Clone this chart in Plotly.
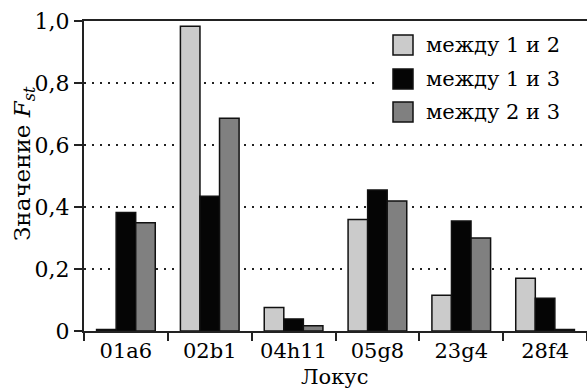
import plotly.graph_objects as go

loci = ["01a6", "02b1", "04h11", "05g8", "23g4", "28f4"]
series_names = ["между 1 и 2", "между 1 и 3", "между 2 и 3"]
fst_12 = [0.005, 0.983, 0.076, 0.360, 0.115, 0.170]
fst_13 = [0.382, 0.435, 0.039, 0.455, 0.355, 0.106]
fst_23 = [0.349, 0.686, 0.017, 0.419, 0.300, 0.005]
y_tick_vals = [0, 0.2, 0.4, 0.6, 0.8, 1.0]
y_tick_text = ["0", "0,2", "0,4", "0,6", "0,8", "1,0"]
x_title = "Локус"
y_title = "Значение <i>F</i><sub><i>st</i></sub>"

colors = ["#cbcbcb", "#050505", "#808080"]
FONT = "DejaVu Serif"
TXT = "#000000"

fig = go.Figure()
for name, vals, col in zip(series_names, [fst_12, fst_13, fst_23], colors):
    fig.add_trace(go.Bar(
        x=loci, y=vals, name=name, showlegend=False,
        marker=dict(color=col, line=dict(color="#111111", width=1.5)),
    ))

W, H = 587, 389
ml, mr, mt, mb = 84, 0, 21, 58
pw, ph = W - ml - mr, H - mt - mb

def px2paper(x, y):
    return (x - ml) / pw, (H - mb - y) / ph

shapes = []
annotations = []
# legend background
x0, y0 = px2paper(380, 26)
x1, y1 = px2paper(587, 130)
shapes.append(dict(type="rect", xref="paper", yref="paper", x0=x0, y0=y1, x1=x1, y1=y0,
                   fillcolor="white", line=dict(width=0), layer="above"))
centers = [45, 79, 112]
for name, col, cy in zip(series_names, colors, centers):
    a0, b0 = px2paper(393, cy - 10)
    a1, b1 = px2paper(413, cy + 10)
    shapes.append(dict(type="rect", xref="paper", yref="paper", x0=a0, y0=b1, x1=a1, y1=b0,
                       fillcolor=col, line=dict(color="#111111", width=1.5), layer="above"))
    tx, ty = px2paper(424, cy)
    annotations.append(dict(text=name, xref="paper", yref="paper", x=tx, y=ty,
                            xanchor="left", yanchor="middle", showarrow=False,
                            font=dict(family=FONT, size=21, color=TXT)))

# y title
ax, ay = px2paper(24, 164)
annotations.append(dict(text=y_title, xref="paper", yref="paper", x=ax, y=ay,
                        textangle=-90, xanchor="center", yanchor="middle", showarrow=False,
                        font=dict(family=FONT, size=23, color=TXT)))
# x title
bx, by = px2paper(334, 377)
annotations.append(dict(text=x_title, xref="paper", yref="paper", x=bx, y=by,
                        xanchor="center", yanchor="middle", showarrow=False,
                        font=dict(family=FONT, size=21, color=TXT)))

fig.update_layout(
    width=W, height=H,
    margin=dict(l=ml, r=mr, t=mt, b=mb, autoexpand=False),
    paper_bgcolor="white", plot_bgcolor="white",
    barmode="group", bargap=0.3, bargroupgap=0,
    font=dict(family=FONT, size=21, color=TXT),
    shapes=shapes, annotations=annotations,
    xaxis=dict(
        automargin=False,
        showline=True, linecolor="#222222", linewidth=2, mirror=True,
        ticks="outside", ticklen=8, tickwidth=2, tickcolor="#222222",
        tickson="boundaries", showgrid=False,
        tickfont=dict(family=FONT, size=21, color=TXT),
    ),
    yaxis=dict(
        automargin=False,
        range=[0, 1.0], tickvals=y_tick_vals, ticktext=y_tick_text,
        showline=True, linecolor="#222222", linewidth=2,
        ticks="outside", ticklen=8, tickwidth=2, tickcolor="#222222",
        showgrid=True, gridcolor="#222222", gridwidth=1.5, griddash="2px,6px",
        zeroline=False,
        tickfont=dict(family=FONT, size=22, color=TXT),
    ),
)
fig.write_html("out.html", config={"displayModeBar": False},
               post_script="document.body.style.margin='0';document.body.style.overflow='hidden';")
